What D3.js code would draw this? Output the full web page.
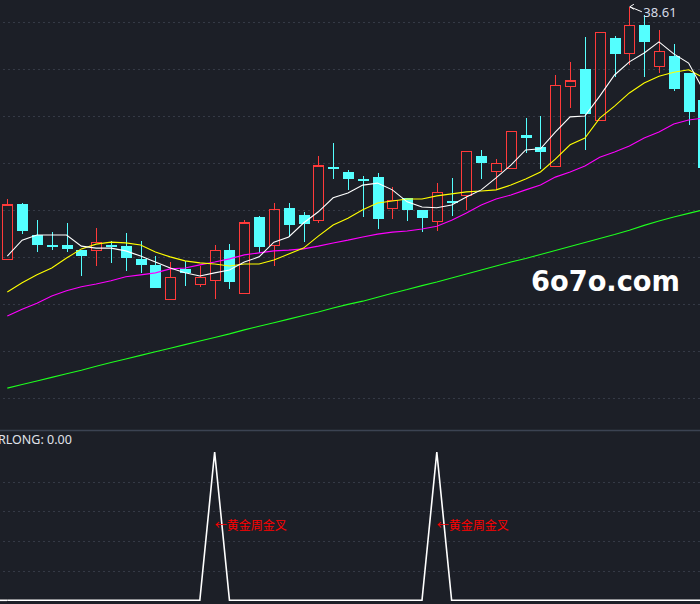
<!DOCTYPE html>
<html><head><meta charset="utf-8">
<script src="https://cdn.jsdelivr.net/npm/d3@7/dist/d3.min.js"></script>
<style>html,body{margin:0;padding:0;background:#1c1f27;overflow:hidden}svg{display:block}</style>
</head><body><svg id="c" width="700" height="604"></svg>
<script>
// ---- data ----
const days = [1,2,3,4,5,6,7,8,9,10,11,12,13,14,15,16,17,18,19,20,21,22,23,24,25,26,27,28,29,30,31,32,33,34,35,36,37,38,39,40,41,42,43,44,45,46,47,48];
const open  = [32.28,33.67,32.89,32.64,32.64,32.51,32.51,32.65,32.61,32.29,32.13,31.28,32.04,31.65,31.75,32.51,31.42,33.34,32.62,33.57,33.39,33.25,34.59,34.47,34.29,34.34,33.56,33.81,33.52,33.23,33.74,33.87,34.88,34.48,34.55,35.40,35.10,34.61,36.62,37.05,35.76,37.83,37.44,38.15,37.12,37.38,36.95,36.27];
const high  = [33.79,33.69,33.26,32.97,33.20,32.51,33.06,32.74,32.95,32.74,32.36,32.21,32.24,32.11,32.64,32.66,33.26,33.37,33.70,33.70,33.47,34.88,35.20,34.52,34.37,34.45,34.09,33.82,33.52,34.19,34.32,34.99,35.02,34.79,35.49,35.82,35.87,36.90,37.22,37.86,37.97,37.89,38.61,38.40,38.03,37.67,36.95,36.27];
const low   = [32.26,32.91,32.47,32.52,32.47,31.87,32.11,32.19,31.99,31.94,31.57,31.28,31.62,31.59,31.28,31.54,31.42,32.43,32.11,32.85,32.72,33.18,34.29,34.02,33.35,33.04,33.29,33.24,32.96,33.00,33.37,33.52,34.30,34.04,34.55,34.95,34.54,34.61,36.06,35.03,35.76,36.84,37.15,36.86,36.96,36.51,35.65,34.56];
const close = [33.64,33.00,32.65,32.59,32.55,32.37,32.71,32.59,32.30,32.14,31.57,31.83,31.94,31.83,32.51,31.72,33.19,32.59,33.52,33.14,33.17,34.62,34.57,34.30,34.25,33.29,33.76,33.52,33.32,33.96,33.69,34.99,34.69,34.69,35.49,35.33,34.98,36.64,36.75,35.92,37.97,37.43,38.15,37.73,37.49,36.56,35.98,34.56];

const maWhite   = [32.36,32.76,32.89,32.89,32.89,32.61,32.56,32.56,32.49,32.36,32.21,32.06,31.94,31.86,31.94,32.01,32.21,32.34,32.71,32.84,33.19,33.47,33.82,33.94,34.14,34.19,34.02,33.72,33.59,33.57,33.64,33.84,34.02,34.32,34.64,35.02,35.05,35.47,35.85,35.87,36.37,36.90,37.23,37.45,37.73,37.43,37.20,36.52];
const maYellow  = [31.46,31.69,31.89,32.06,32.31,32.54,32.66,32.71,32.69,32.64,32.46,32.34,32.24,32.19,32.16,32.11,32.16,32.16,32.26,32.41,32.56,32.86,33.14,33.31,33.52,33.69,33.74,33.79,33.79,33.87,33.92,33.97,33.99,34.02,34.14,34.29,34.47,34.79,35.15,35.32,35.82,36.12,36.45,36.70,36.87,36.97,37.03,36.83];
const maMagenta = [30.86,31.03,31.18,31.36,31.49,31.59,31.66,31.74,31.84,31.89,31.94,32.04,32.06,32.14,32.21,32.29,32.39,32.44,32.49,32.51,32.54,32.61,32.69,32.76,32.84,32.91,32.96,32.99,33.04,33.11,33.26,33.44,33.64,33.79,33.89,34.02,34.14,34.34,34.47,34.62,34.84,34.97,35.12,35.32,35.47,35.67,35.77,35.82];
const maGreen   = [29.05,29.14,29.23,29.32,29.41,29.50,29.60,29.69,29.78,29.87,29.96,30.05,30.14,30.23,30.32,30.41,30.51,30.60,30.69,30.78,30.87,30.96,31.06,31.15,31.23,31.33,31.43,31.52,31.62,31.71,31.81,31.91,32.01,32.11,32.21,32.30,32.40,32.50,32.60,32.70,32.80,32.90,33.01,33.13,33.24,33.34,33.43,33.52];

const priceGrid = [38.23,37.05,35.87,34.69,33.52,32.34,31.16,29.98,28.80];

const signal = [0,0,0,0,0,0,0,0,0,0,0,0,0,0,1,0,0,0,0,0,0,0,0,0,0,0,0,0,0,1,0,0,0,0,0,0,0,0,0,0,0,0,0,0,0,0,0,0];
const signalGrid = [0.2,0.4,0.6,0.8];
const signalLabel = "←黄金周金叉";
const indicatorTitle = "RLONG: 0.00";
const watermark = "6o7o.com";

// ---- drawing ----
const svg = d3.select("#c");
const W = 700, H = 604;
svg.append("rect").attr("width", W).attr("height", H).attr("fill", "#1c1f27");

const x = d3.scalePoint().domain(days).range([7.3, 703.4]);
const y = d3.scaleLinear().domain([28, 38.78]).range([430, 0]);
const y2 = d3.scaleLinear().domain([0, 1]).range([600.3, 452]);

const gridColor = "#353a46";
// price grid
svg.append("g").selectAll("line").data(priceGrid).join("line")
  .attr("x1", 3).attr("x2", W).attr("y1", d => Math.round(y(d)) + 0.5).attr("y2", d => Math.round(y(d)) + 0.5)
  .attr("stroke", gridColor).attr("stroke-width", 1).attr("stroke-dasharray", "2,3");
// lower grid
svg.append("g").selectAll("line").data(signalGrid).join("line")
  .attr("x1", 3).attr("x2", W).attr("y1", d => Math.round(y2(d)) + 0.5).attr("y2", d => Math.round(y2(d)) + 0.5)
  .attr("stroke", gridColor).attr("stroke-width", 1).attr("stroke-dasharray", "2,3");

// divider
svg.append("line").attr("x1", 0).attr("x2", W).attr("y1", 430.5).attr("y2", 430.5)
  .attr("stroke", "#3b4352").attr("stroke-width", 1.5);

// clip for the upper pane
svg.append("clipPath").attr("id", "up").append("rect").attr("x", 0).attr("y", 0).attr("width", W).attr("height", 430);
const up = svg.append("g").attr("clip-path", "url(#up)");

const RED = "#ff3a3a", CYAN = "#54ffff";
const idx = d3.range(days.length);
const isUp = i => close[i] > open[i];

// candles
const cg = up.append("g").attr("shape-rendering", "crispEdges");
idx.forEach(i => {
  const cx = Math.round(x(days[i])) + 0.5;
  const top = y(Math.max(open[i], close[i])), bot = y(Math.min(open[i], close[i]));
  if (isUp(i)) {
    cg.append("line").attr("x1", cx).attr("x2", cx).attr("y1", y(high[i])).attr("y2", top).attr("stroke", RED);
    cg.append("line").attr("x1", cx).attr("x2", cx).attr("y1", bot).attr("y2", y(low[i])).attr("stroke", RED);
    cg.append("rect").attr("x", cx - 5).attr("y", top).attr("width", 10).attr("height", Math.max(1, bot - top))
      .attr("fill", "none").attr("stroke", RED).attr("stroke-width", 1.2);
  } else {
    cg.append("line").attr("x1", cx).attr("x2", cx).attr("y1", y(high[i])).attr("y2", y(low[i])).attr("stroke", CYAN);
    cg.append("rect").attr("x", cx - 5.5).attr("y", top).attr("width", 11).attr("height", Math.max(1.5, bot - top))
      .attr("fill", CYAN);
  }
});

// moving average lines
const line = d3.line().x((d, i) => x(days[i])).y(d => y(d));
[[maGreen, "#1eff1e"], [maMagenta, "#ff00ff"], [maYellow, "#ffff00"], [maWhite, "#ffffff"]].forEach(([s, c]) => {
  up.append("path").datum(s).attr("d", line).attr("fill", "none").attr("stroke", c).attr("stroke-width", 1.1);
});

// max high marker
const mi = d3.maxIndex(high);
const tx = x(days[mi]) + 0.5, ty = y(high[mi]);
svg.append("path").attr("d", `M${tx+4},${ty-2.5}L${tx},${ty}L${tx+4},${ty+2.5}M${tx},${ty}L${tx+12},${ty+5}`)
  .attr("fill", "none").attr("stroke", "#ffffff").attr("stroke-width", 1);
svg.append("text").attr("x", tx + 13.5).attr("y", ty + 10).text(high[mi].toFixed(2))
  .attr("font-family", "'Noto Sans', 'DejaVu Sans', sans-serif").attr("font-size", 13).attr("fill", "#d6dbe6");

// watermark
svg.append("text").attr("x", 531).attr("y", 291).text(watermark)
  .attr("font-family", "'DejaVu Sans', sans-serif").attr("font-weight", "bold").attr("font-size", 28)
  .attr("textLength", 149).attr("lengthAdjust", "spacingAndGlyphs").attr("fill", "#ffffff");

// lower pane
const line2 = d3.line().x((d, i) => x(days[i])).y(d => y2(d));
svg.append("path").datum(signal).attr("d", line2).attr("fill", "none").attr("stroke", "#ffffff").attr("stroke-width", 1.6);
svg.append("line").attr("x1", 0).attr("x2", x(days[0])).attr("y1", y2(0)).attr("y2", y2(0)).attr("stroke", "#ffffff").attr("stroke-width", 1.6);

svg.append("g").selectAll("text").data(idx.filter(i => signal[i] > 0)).join("text")
  .attr("x", i => x(days[i])).attr("y", y2(0.5)).attr("dy", "0.36em").text(signalLabel)
  .attr("font-family", "'Noto Sans CJK SC', sans-serif").attr("font-size", 12).attr("fill", "#ff0000");

svg.append("text").attr("x", -2).attr("y", 443.5).text(indicatorTitle)
  .attr("font-family", "'Noto Sans', 'DejaVu Sans', sans-serif").attr("font-size", 12.5).attr("fill", "#e0e3ea");
</script></body></html>
